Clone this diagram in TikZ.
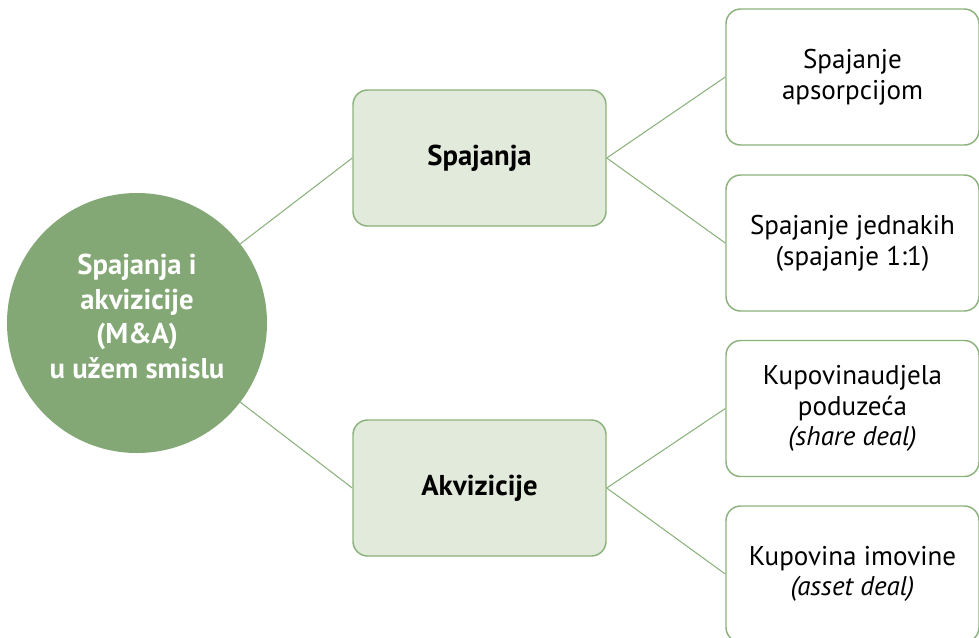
\documentclass[tikz,border=0pt]{standalone}
\usepackage{fontspec}
\setmainfont{PT Sans}
\definecolor{maGreen}{HTML}{83A775}
\definecolor{maLine}{HTML}{8CB27D}
\definecolor{maFill}{HTML}{E2EADB}
\begin{document}
\begin{tikzpicture}[x=0.75pt,y=-0.75pt,
    rootnode/.style={circle,fill=maGreen,text=white,minimum size=195pt,inner sep=0pt,
        align=center,text depth=10pt,font=\fontsize{21.5}{26}\selectfont\bfseries},
    midbox/.style={draw=maLine,line width=1.1pt,fill=maFill,rounded corners=11pt,
        minimum width=189.75pt,minimum height=102pt,font=\fontsize{21.5}{26}\selectfont\bfseries},
    leafbox/.style={draw=maLine,line width=1.1pt,fill=white,rounded corners=11pt,
        minimum width=189.75pt,minimum height=102pt,align=center,
        font=\fontsize{20.3}{23}\selectfont},
    link/.style={draw=maLine,line width=0.8pt}]

\useasboundingbox (0,0) rectangle (979,637);

% root
\node[rootnode] (ma) at (137,323) {Spajanja i\\akvizicije\\(M\&A)\\u užem smislu};

% the two kinds
\node[midbox] (spaj) at (479.5,158) {Spajanja};
\node[midbox] (akv) at (479.5,488) {Akvizicije};

% leaves
\node[leafbox] (apso) at (852.5,77) {Spajanje\\apsorpcijom};
\node[leafbox] (jedn) at (852.5,243) {Spajanje jednakih\\(spajanje 1:1)};
\node[leafbox] (share) at (852.5,408.5) {Kupovinaudjela\\poduzeća\\\textit{(share deal)}};
\node[leafbox] (asset) at (852.5,574) {Kupovina imovine\\\textit{(asset deal)}};

% connectors
\draw[link] (ma) -- (spaj.west);
\draw[link] (ma) -- (akv.west);
\draw[link] (spaj.east) -- (apso.west);
\draw[link] (spaj.east) -- (jedn.west);
\draw[link] (akv.east) -- (share.west);
\draw[link] (akv.east) -- (asset.west);

\end{tikzpicture}
\end{document}
